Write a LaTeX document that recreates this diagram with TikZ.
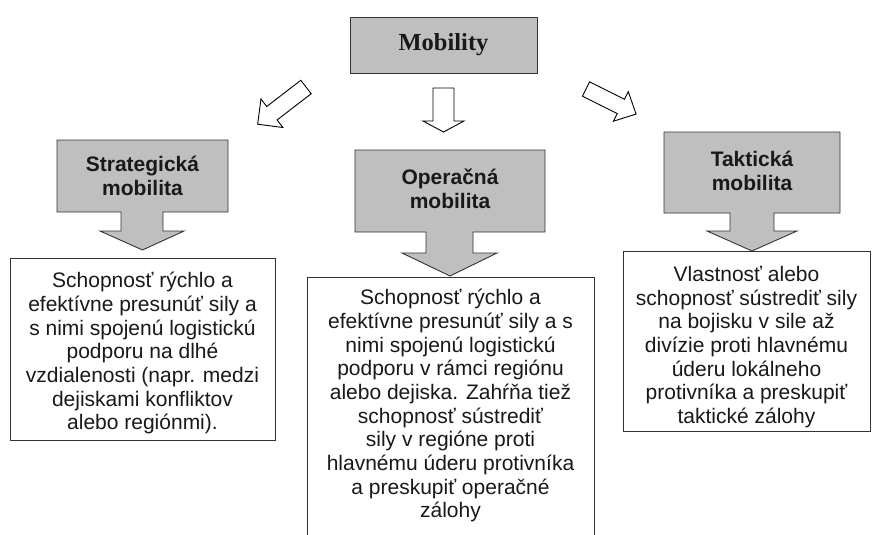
\documentclass[tikz,border=0pt]{standalone}
\usepackage{fontspec}
\setmainfont{Liberation Sans}
\newfontfamily\timesfont{Liberation Serif}
\begin{document}
\begin{tikzpicture}[x=1pt,y=-1pt,
  lineC/.style={draw=black!80, line width=0.9pt},
  graybox/.style={lineC, fill=black!25, line join=miter},
  hollow/.style={draw=black, line width=0.9pt, fill=white, line join=miter},
  desc/.style={anchor=north, inner sep=0pt, align=center, font=\fontsize{21}{23.7}\selectfont, text=black!90},
  title/.style={font=\bfseries\fontsize{21}{24}\selectfont, align=center, inner sep=0pt, text=black!90},
  descbox/.style={lineC, fill=white, inner sep=0pt, anchor=north west},
  pics/blockarrow/.style n args={4}{code={\draw[hollow] (0,#1) -- (#3,#1) -- (#3,#2) -- (#4,0) -- (#3,-#2) -- (#3,-#1) -- (0,-#1) -- cycle;}}
]
\useasboundingbox (0,0) rectangle (875,535);
\clip (0,0) rectangle (875,535);

% top box
\node[lineC, fill=black!25, minimum width=187pt, minimum height=56pt, inner sep=0pt,
      font=\timesfont\bfseries\fontsize{24.5}{28}\selectfont, text=black!90] (mob) at (443.5,45) {Mobility};

% hollow arrows
\pic[rotate=217.6] at (306,87) {blockarrow={8.5}{18}{43}{61}};
\pic[rotate=-90] at (443.5,88) {blockarrow={10.5}{20.5}{33}{44}};
\pic[rotate=-26.6] at (586,89) {blockarrow={8}{16.5}{39}{56}};

% description boxes
\node[descbox, minimum width=265pt, minimum height=182pt] (sbox) at (10,258) {};
\node[descbox, minimum width=287pt, minimum height=300pt] (obox) at (307,277) {};
\node[descbox, minimum width=247pt, minimum height=180pt] (tbox) at (623,251) {};

% gray callouts
\draw[graybox] (57,140) -- (228,140) -- (228,212) -- (163,212) -- (163,231) -- (184,231) -- (142.5,250)
  -- (100,231) -- (121,231) -- (121,212) -- (57,212) -- cycle;
\draw[graybox] (355,150) -- (545,150) -- (545,232) -- (473,232) -- (473,253) -- (497,253) -- (450,276)
  -- (402,253) -- (426,253) -- (426,232) -- (355,232) -- cycle;
\draw[graybox] (664,132) -- (840,132) -- (840,213) -- (774,213) -- (774,231) -- (797,231) -- (752,251)
  -- (707,231) -- (730,231) -- (730,213) -- (664,213) -- cycle;

\node[title] (strat) at (142.5,176) {Strategická\\mobilita};
\node[title] (oper) at (450,189) {Operačná\\mobilita};
\node[title] (takt) at (752,171) {Taktická\\mobilita};

% texts
\node[desc] (sdesc) at (142.5,272) {Schopnosť rýchlo a\\efektívne presunúť sily a\\s nimi spojenú logistickú\\podporu na dlhé\\vzdialenosti (napr. medzi\\dejiskami konfliktov\\alebo regiónmi).};
\node[desc] (odesc) at (450.5,289) {Schopnosť rýchlo a\\efektívne presunúť sily a s\\nimi spojenú logistickú\\podporu v rámci regiónu\\alebo dejiska. Zahŕňa tiež\\schopnosť sústrediť\\sily v regióne proti\\hlavnému úderu protivníka\\a preskupiť operačné\\zálohy};
\node[desc] (tdesc) at (746.5,266) {Vlastnosť alebo\\schopnosť sústrediť sily\\na bojisku v sile až\\divízie proti hlavnému\\úderu lokálneho\\protivníka a preskupiť\\taktické zálohy};
\end{tikzpicture}
\end{document}
